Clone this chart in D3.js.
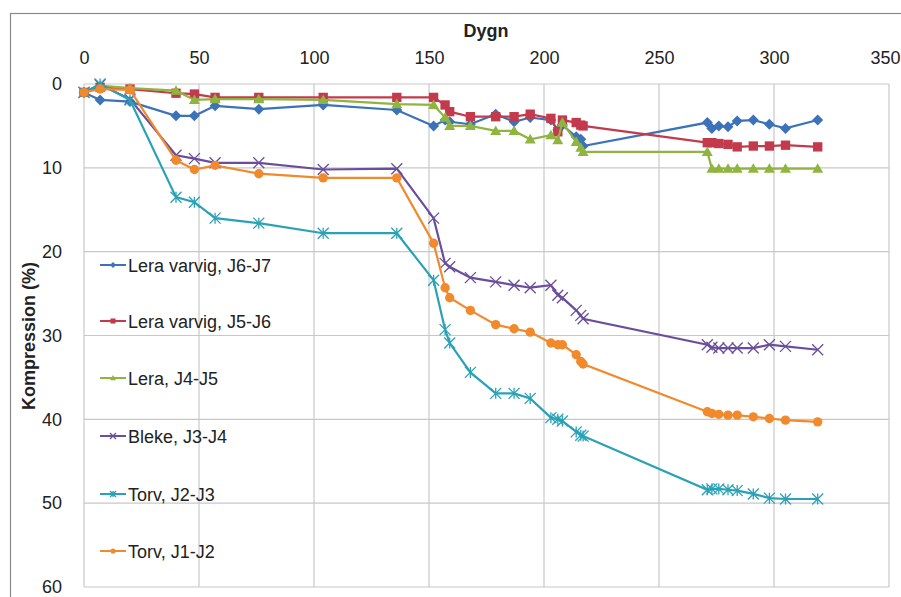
<!DOCTYPE html>
<html>
<head>
<meta charset="utf-8">
<script src="https://cdn.jsdelivr.net/npm/d3@7"></script>
<style>
  body { margin: 0; background: #fff; }
  text { font-family: "Liberation Sans", Arial, sans-serif; fill: #222; }
</style>
</head>
<body>
<div id="chart"></div>
<script>
var svgWidth = 901;
var svgHeight = 597;

// plot area inside the svg
var margin = { top: 84, right: 12, bottom: 10, left: 84 };
var width = 889 - margin.left;
var height = 587 - margin.top;

// days since start (shared by all series)
var days = [0, 7, 20, 40, 48, 57, 76, 104, 136, 152, 157, 159, 168, 179, 187, 194, 203, 206, 208, 214, 216, 217, 271, 273, 276, 280, 284, 291, 298, 305, 319];

// compression (%) per layer
var leraJ6J7 = [1.0, 1.9, 2.1, 3.8, 3.8, 2.6, 3.0, 2.5, 3.1, 5.0, 4.3, 4.5, 4.8, 3.6, 4.5, 4.0, 4.3, 5.5, 4.9, 6.3, 6.6, 7.4, 4.6, 5.3, 5.0, 5.1, 4.4, 4.3, 4.8, 5.3, 4.3];
var leraJ5J6 = [1.0, 0.4, 0.6, 1.1, 1.2, 1.6, 1.6, 1.6, 1.6, 1.6, 2.5, 3.3, 3.9, 3.9, 3.9, 3.6, 4.1, 5.7, 4.3, 4.6, 4.9, 5.0, 7.0, 7.0, 7.1, 7.2, 7.5, 7.4, 7.4, 7.3, 7.5];
var leraJ4J5 = [1.0, 0.2, 0.5, 0.8, 1.9, 1.8, 1.8, 1.9, 2.4, 2.5, 4.0, 5.0, 5.0, 5.6, 5.6, 6.6, 6.1, 6.7, 4.6, 6.9, 7.6, 8.1, 8.1, 10.1, 10.1, 10.1, 10.1, 10.1, 10.1, 10.1, 10.1];
var blekeJ3J4 = [1.0, 0.1, 1.8, 8.5, 8.9, 9.4, 9.4, 10.2, 10.1, 16.0, 21.4, 21.8, 23.1, 23.6, 24.0, 24.3, 24.0, 25.2, 25.5, 27.0, 27.6, 28.0, 31.1, 31.4, 31.5, 31.5, 31.5, 31.5, 31.1, 31.3, 31.7];
var torvJ2J3 = [1.0, 0.0, 1.9, 13.5, 14.1, 16.0, 16.6, 17.8, 17.8, 23.4, 29.3, 30.9, 34.4, 36.9, 36.9, 37.5, 39.8, 40.0, 40.2, 41.5, 41.9, 42.0, 48.4, 48.3, 48.3, 48.4, 48.5, 48.9, 49.4, 49.5, 49.5];
var torvJ1J2 = [1.0, 0.6, 0.7, 9.1, 10.2, 9.7, 10.7, 11.2, 11.2, 19.0, 24.3, 25.5, 27.0, 28.7, 29.2, 29.6, 30.9, 31.1, 31.1, 32.3, 33.1, 33.4, 39.1, 39.3, 39.4, 39.5, 39.5, 39.7, 39.9, 40.1, 40.3];

var names = ["Lera varvig, J6-J7", "Lera varvig, J5-J6", "Lera, J4-J5", "Bleke, J3-J4", "Torv, J2-J3", "Torv, J1-J2"];
var colors = ["#3c72b8", "#c33a4c", "#8fb440", "#6a4e9c", "#2aa2b6", "#f08a2c"];
var shapes = ["diamond", "square", "triangle", "x", "star", "circle"];

var xTicks = [0, 50, 100, 150, 200, 250, 300, 350];
var yTicks = [0, 10, 20, 30, 40, 50, 60];

var series = [leraJ6J7, leraJ5J6, leraJ4J5, blekeJ3J4, torvJ2J3, torvJ1J2].map(function(vals, i) {
  return {
    name: names[i], color: colors[i], shape: shapes[i],
    points: vals.map(function(v, j) { return { day: days[j], value: v }; })
  };
});

var svg = d3.select("#chart").append("svg")
  .attr("width", svgWidth)
  .attr("height", svgHeight);

// outer chart border
svg.append("rect")
  .attr("x", 10.5).attr("y", 13.5)
  .attr("width", 900).attr("height", 600)
  .attr("fill", "none")
  .attr("stroke", "#8a8a8a")
  .attr("stroke-width", 1.2);

var g = svg.append("g")
  .attr("transform", `translate(${margin.left}, ${margin.top})`);

var xScale = d3.scaleLinear().domain([0, 350]).range([0, width]);
var yScale = d3.scaleLinear().domain([0, 60]).range([0, height]);

// gridlines
g.append("g").selectAll("line").data(xTicks).enter().append("line")
  .attr("x1", d => xScale(d)).attr("x2", d => xScale(d))
  .attr("y1", 0).attr("y2", height)
  .attr("stroke", "#c8c8c8").attr("stroke-width", 1.2);
g.append("g").selectAll("line").data(yTicks).enter().append("line")
  .attr("x1", 0).attr("x2", width)
  .attr("y1", d => yScale(d)).attr("y2", d => yScale(d))
  .attr("stroke", "#c8c8c8").attr("stroke-width", 1.2);

// axes (top and left, labels only)
var xAxis = d3.axisTop(xScale).tickValues(xTicks).tickSize(0).tickPadding(20);
var yAxis = d3.axisLeft(yScale).tickValues(yTicks).tickSize(0).tickPadding(22);

var xAxisGroup = g.append("g").call(xAxis);
var yAxisGroup = g.append("g").call(yAxis);
[xAxisGroup, yAxisGroup].forEach(function(a) {
  a.select(".domain").remove();
  a.selectAll("text").style("font-size", "18px").style("fill", "#222");
});
// last top label sits at the window edge: keep it inside
xAxisGroup.selectAll("text").filter(d => d === 350)
  .attr("text-anchor", "end").attr("x", 11);

// axis titles
svg.append("text")
  .attr("x", 486).attr("y", 37)
  .attr("text-anchor", "middle")
  .style("font-size", "18px").style("font-weight", "bold")
  .text("Dygn");
svg.append("text")
  .attr("transform", "translate(35, 336) rotate(-90)")
  .attr("text-anchor", "middle")
  .style("font-size", "18px").style("font-weight", "bold")
  .text("Kompression (%)");

// marker drawing
function drawMarker(sel, shape, color, s) {
  if (shape === "diamond") {
    sel.append("path").attr("d", `M0,${-s}L${s},0L0,${s}L${-s},0Z`).attr("fill", color);
  } else if (shape === "square") {
    sel.append("rect").attr("x", -s * 0.85).attr("y", -s * 0.85)
      .attr("width", s * 1.7).attr("height", s * 1.7).attr("fill", color);
  } else if (shape === "triangle") {
    sel.append("path").attr("d", `M0,${-s}L${s},${s * 0.75}L${-s},${s * 0.75}Z`).attr("fill", color);
  } else if (shape === "circle") {
    sel.append("circle").attr("r", s * 0.85).attr("fill", color);
  } else if (shape === "x") {
    sel.append("path").attr("d", `M${-s},${-s}L${s},${s}M${-s},${s}L${s},${-s}`)
      .attr("stroke", color).attr("stroke-width", 1.3).attr("fill", "none");
  } else if (shape === "star") {
    sel.append("path").attr("d", `M${-s},${-s}L${s},${s}M${-s},${s}L${s},${-s}M0,${-s}L0,${s}`)
      .attr("stroke", color).attr("stroke-width", 1.3).attr("fill", "none");
  }
}

var line = d3.line().x(d => xScale(d.day)).y(d => yScale(d.value));

series.forEach(function(s) {
  var sg = g.append("g");
  sg.append("path").datum(s.points)
    .attr("d", line)
    .attr("fill", "none")
    .attr("stroke", s.color)
    .attr("stroke-width", 2.2);
  sg.selectAll("g.pt").data(s.points).enter().append("g")
    .attr("class", "pt")
    .attr("transform", d => `translate(${xScale(d.day)}, ${yScale(d.value)})`)
    .each(function() { drawMarker(d3.select(this), s.shape, s.color, 5.5); });
});

// legend
var legend = svg.append("g");
var legendY = [265, 321, 378, 436, 494, 551];
series.forEach(function(s, i) {
  var lg = legend.append("g").attr("transform", `translate(100, ${legendY[i]})`);
  lg.append("line").attr("x1", 0).attr("x2", 26).attr("y1", 0).attr("y2", 0)
    .attr("stroke", s.color).attr("stroke-width", 2);
  lg.append("g").attr("transform", "translate(13, 0)")
    .each(function() { drawMarker(d3.select(this), s.shape, s.color, 3); });
  lg.append("text").attr("x", 28).attr("y", 6.5)
    .style("font-size", "18px")
    .text(s.name);
});
</script>
</body>
</html>
